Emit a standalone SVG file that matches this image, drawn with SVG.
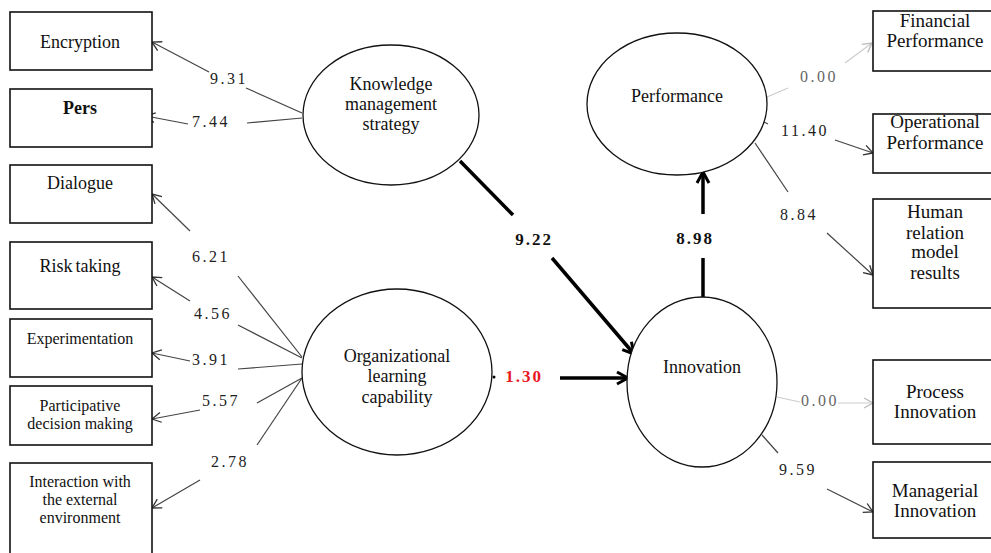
<svg xmlns="http://www.w3.org/2000/svg" width="991" height="553" viewBox="0 0 991 553">
<defs>
<style>
.box{fill:#fff;stroke:#111;stroke-width:1.6}
.ell{fill:#fff;stroke:#111;stroke-width:1.3}
.t{font-size:18px;fill:#111;text-anchor:middle}
.ts{font-size:16px}
.tr{font-size:19px}
.n{font-size:16px;fill:#222;text-anchor:middle;letter-spacing:2.5px}
.nb{font-weight:bold;fill:#111;font-size:17px;letter-spacing:2px}
.thin{stroke:#444;stroke-width:1.2;fill:none}
.light{stroke:#ccc;stroke-width:1.2;fill:none}
.thick{stroke:#000;stroke-width:3.5;fill:none}
</style>
<marker id="a" markerWidth="12" markerHeight="12" refX="10" refY="6" orient="auto" markerUnits="userSpaceOnUse">
<path d="M1,1 L10,6 L1,11" fill="none" stroke="#333" stroke-width="1.3"/>
</marker>
<marker id="al" markerWidth="12" markerHeight="12" refX="10" refY="6" orient="auto" markerUnits="userSpaceOnUse">
<path d="M1,1 L10,6 L1,11" fill="none" stroke="#bbb" stroke-width="1.3"/>
</marker>
<marker id="ab" markerWidth="16" markerHeight="16" refX="13" refY="8" orient="auto" markerUnits="userSpaceOnUse">
<path d="M2,2 L13,8 L2,14" fill="none" stroke="#000" stroke-width="3"/>
</marker>
</defs>
<rect width="991" height="553" fill="#fff"/>
<g font-family="'Liberation Serif', 'DejaVu Serif', 'Times New Roman', serif">
<g id="connectors">
<line class="thin" x1="302" y1="113" x2="246" y2="88"/>
<line class="thin" x1="209" y1="72" x2="152" y2="42" marker-end="url(#a)"/>
<line class="thin" x1="302" y1="118" x2="247" y2="123"/>
<line class="thin" x1="188" y1="124" x2="146" y2="116" marker-end="url(#a)"/>
<line class="thin" x1="302" y1="357" x2="238" y2="276"/>
<line class="thin" x1="190" y1="231" x2="152" y2="194" marker-end="url(#a)"/>
<line class="thin" x1="302" y1="358" x2="238" y2="325"/>
<line class="thin" x1="190" y1="301" x2="152" y2="277" marker-end="url(#a)"/>
<line class="thin" x1="302" y1="364" x2="238" y2="369"/>
<line class="thin" x1="190" y1="361" x2="152" y2="353" marker-end="url(#a)"/>
<line class="thin" x1="302" y1="378" x2="257" y2="403"/>
<line class="thin" x1="200" y1="410" x2="152" y2="419" marker-end="url(#a)"/>
<line class="thin" x1="302" y1="378" x2="257" y2="445"/>
<line class="thin" x1="200" y1="480" x2="152" y2="508" marker-end="url(#a)"/>
<line class="thick" x1="460" y1="161" x2="513" y2="215"/>
<line class="thick" x1="552" y1="258" x2="634" y2="354" marker-end="url(#ab)"/>
<circle cx="494" cy="377" r="1.5" fill="#000"/>
<line class="thick" x1="560" y1="378" x2="628" y2="378" marker-end="url(#ab)"/>
<line class="thick" x1="703" y1="297" x2="703" y2="258"/>
<line class="thick" x1="703" y1="214" x2="703" y2="172" marker-end="url(#ab)"/>
<line class="light" x1="767" y1="97" x2="788" y2="88"/>
<line class="light" x1="845" y1="63" x2="872" y2="43" marker-end="url(#al)"/>
<line class="thin" x1="764" y1="122" x2="768" y2="124"/>
<line class="thin" x1="835" y1="140" x2="873" y2="153" marker-end="url(#a)"/>
<line class="thin" x1="755" y1="143" x2="788" y2="192"/>
<line class="thin" x1="827" y1="233" x2="873" y2="275" marker-end="url(#a)"/>
<line class="light" x1="777" y1="397" x2="800" y2="402"/>
<line class="light" x1="838" y1="403" x2="873" y2="403" marker-end="url(#al)"/>
<line class="thin" x1="762" y1="435" x2="778" y2="453"/>
<line class="thin" x1="827" y1="489" x2="873" y2="512" marker-end="url(#a)"/>
<text class="n" x="229" y="84">9.31</text>
<text class="n" x="211" y="127">7.44</text>
<text class="n" x="211" y="262">6.21</text>
<text class="n" x="213" y="319">4.56</text>
<text class="n" x="211" y="365">3.91</text>
<text class="n" x="221" y="406">5.57</text>
<text class="n" x="230" y="467">2.78</text>
<text class="n nb" x="534" y="245">9.22</text>
<text class="n nb" x="524" y="382" style="fill:#e8191f">1.30</text>
<text class="n nb" x="695" y="244">8.98</text>
<text class="n" x="819" y="82" style="fill:#666">0.00</text>
<text class="n" x="805" y="136">11.40</text>
<text class="n" x="799" y="220">8.84</text>
<text class="n" x="820" y="406" style="fill:#666">0.00</text>
<text class="n" x="798" y="475">9.59</text>
</g>

<g id="encryption"><rect class="box" x="10" y="12" width="142" height="58"/><text class="t" x="80" y="48">Encryption</text></g>
<g id="pers"><rect class="box" x="10" y="89" width="142" height="58"/><text class="t" x="80" y="114" font-weight="bold">Pers</text></g>
<g id="dialogue"><rect class="box" x="10" y="165" width="142" height="58"/><text class="t" x="80" y="189">Dialogue</text></g>
<g id="risk"><rect class="box" x="10" y="242" width="142" height="67"/><text class="t" x="80" y="272" word-spacing="-1.5">Risk taking</text></g>
<g id="experimentation"><rect class="box" x="10" y="319" width="142" height="58"/><text class="t ts" x="80" y="344">Experimentation</text></g>
<g id="participative"><rect class="box" x="10" y="386" width="142" height="59"/><text class="t ts" x="80" y="411">Participative</text><text class="t ts" x="80" y="429">decision making</text></g>
<g id="interaction"><rect class="box" x="10" y="463" width="142" height="100"/><text class="t ts" x="80" y="487">Interaction with</text><text class="t ts" x="80" y="505">the external</text><text class="t ts" x="80" y="523">environment</text></g>

<g id="knowledge"><ellipse class="ell" cx="391" cy="115" rx="88" ry="70"/><text class="t" x="391" y="90">Knowledge</text><text class="t" x="391" y="110">management</text><text class="t" x="391" y="130">strategy</text></g>
<g id="organizational"><ellipse class="ell" cx="397" cy="372" rx="95" ry="83"/><text class="t" x="397" y="362">Organizational</text><text class="t" x="397" y="382">learning</text><text class="t" x="397" y="403">capability</text></g>
<g id="performance"><ellipse class="ell" cx="677" cy="104" rx="90" ry="71"/><text class="t" x="677" y="102">Performance</text></g>
<g id="innovation"><ellipse class="ell" cx="702" cy="382" rx="75" ry="85"/><text class="t" x="702" y="373">Innovation</text></g>

<g id="financial"><rect class="box" x="873" y="11" width="130" height="60"/><text class="t tr" x="935" y="27">Financial</text><text class="t tr" x="935" y="47">Performance</text></g>
<g id="operational"><rect class="box" x="873" y="114" width="130" height="59"/><text class="t tr" x="935" y="128">Operational</text><text class="t tr" x="935" y="149">Performance</text></g>
<g id="human"><rect class="box" x="873" y="199" width="130" height="109"/><text class="t tr" x="935" y="218">Human</text><text class="t tr" x="935" y="239">relation</text><text class="t tr" x="935" y="258">model</text><text class="t tr" x="935" y="279">results</text></g>
<g id="process"><rect class="box" x="873" y="360" width="130" height="84"/><text class="t tr" x="935" y="398">Process</text><text class="t tr" x="935" y="418">Innovation</text></g>
<g id="managerial"><rect class="box" x="873" y="462" width="130" height="76"/><text class="t tr" x="935" y="497">Managerial</text><text class="t tr" x="935" y="517">Innovation</text></g>
</g>
</svg>
